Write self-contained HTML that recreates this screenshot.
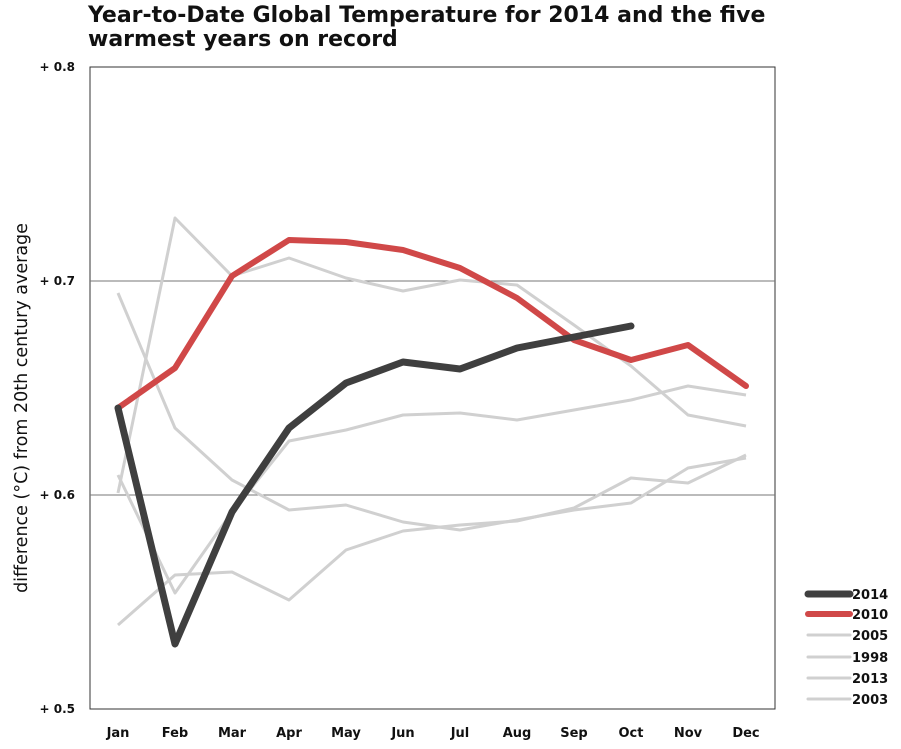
<!DOCTYPE html>
<html><head><meta charset="utf-8"><style>
body{margin:0;background:#fff;width:901px;height:744px;overflow:hidden}
svg{font-family:"DejaVu Sans","Liberation Sans",sans-serif}
</style></head><body>
<svg width="901" height="744" viewBox="0 0 901 744">
<text x="88" y="22" font-size="22" font-weight="bold" fill="#111">Year-to-Date Global Temperature for 2014 and the five</text>
<text x="88" y="46" font-size="22" font-weight="bold" fill="#111">warmest years on record</text>
<rect x="90" y="67" width="685" height="642" fill="none" stroke="#333" stroke-width="1"/>
<line x1="90" y1="281" x2="775" y2="281" stroke="#777" stroke-width="1"/>
<line x1="90" y1="495" x2="775" y2="495" stroke="#777" stroke-width="1"/>
<g font-size="12" font-weight="bold" fill="#111" text-anchor="end">
<text x="75" y="71">+ 0.8</text><text x="75" y="285">+ 0.7</text><text x="75" y="499">+ 0.6</text><text x="75" y="713">+ 0.5</text>
</g>
<text transform="translate(27,408) rotate(-90)" font-size="17.5" fill="#111" text-anchor="middle">difference (°C)  from 20th century average</text>
<g font-size="13" font-weight="bold" fill="#111" text-anchor="middle">
<text x="118" y="737">Jan</text><text x="175" y="737">Feb</text><text x="232" y="737">Mar</text><text x="289" y="737">Apr</text><text x="346" y="737">May</text><text x="403" y="737">Jun</text><text x="460" y="737">Jul</text><text x="517" y="737">Aug</text><text x="574" y="737">Sep</text><text x="631" y="737">Oct</text><text x="688" y="737">Nov</text><text x="746" y="737">Dec</text>
</g>
<g fill="none" stroke="#d0d0d0" stroke-width="3" stroke-linejoin="round">
<polyline points="118,493 175,218 232,276 289,258 346,278 403,291 460,280 517,285 574,325 631,366 688,415 746,426"/>
<polyline points="118,293 175,428 232,480 289,510 346,505 403,522 460,530 517,520 574,510 631,503 688,468 746,458"/>
<polyline points="118,625 175,575 232,572 289,600 346,550 403,531 460,525 517,521 574,508 631,478 688,483 746,455"/>
<polyline points="118,475 175,593 232,512 289,441 346,430 403,415 460,413 517,420 574,410 631,400 688,386 746,395"/>
</g>
<polyline fill="none" stroke="#d04848" stroke-width="6" stroke-linejoin="round" stroke-linecap="round" points="118,408 175,368 232,276 289,240 346,242 403,250 460,268 517,298 574,340 631,360 688,345 746,386"/>
<polyline fill="none" stroke="#3f3f3f" stroke-width="7" stroke-linejoin="round" stroke-linecap="round" points="118,408 175,644 232,512 289,428 346,383 403,362 460,369 517,348 574,337 631,326"/>
<g stroke-linecap="round">
<line x1="808" y1="594" x2="850" y2="594" stroke="#3f3f3f" stroke-width="7"/>
<line x1="808" y1="614" x2="850" y2="614" stroke="#d04848" stroke-width="6"/>
<line x1="808" y1="635" x2="850" y2="635" stroke="#d0d0d0" stroke-width="3"/>
<line x1="808" y1="657" x2="850" y2="657" stroke="#d0d0d0" stroke-width="3"/>
<line x1="808" y1="678" x2="850" y2="678" stroke="#d0d0d0" stroke-width="3"/>
<line x1="808" y1="699" x2="850" y2="699" stroke="#d0d0d0" stroke-width="3"/>
</g>
<g font-size="13" font-weight="bold" fill="#111">
<text x="852" y="599">2014</text><text x="852" y="619">2010</text><text x="852" y="640">2005</text><text x="852" y="662">1998</text><text x="852" y="683">2013</text><text x="852" y="704">2003</text>
</g>
</svg>
</body></html>
